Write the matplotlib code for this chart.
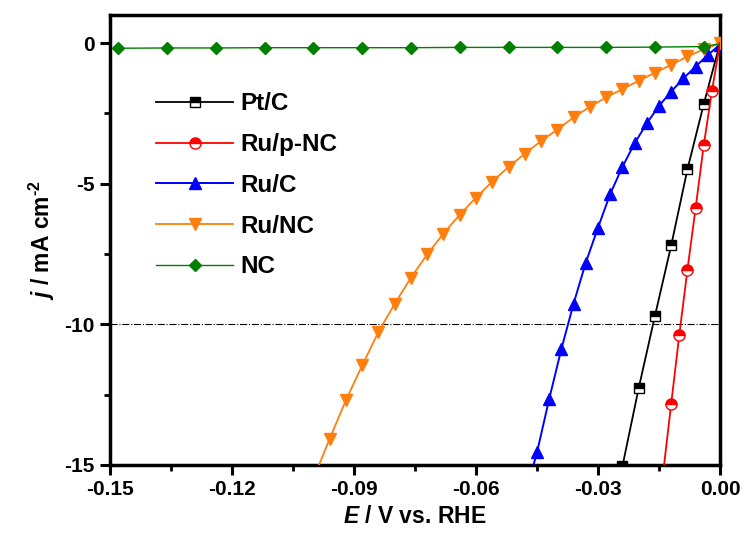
import matplotlib
matplotlib.use("Agg")
import matplotlib.pyplot as plt
from matplotlib.ticker import MultipleLocator, FormatStrFormatter

plt.rcParams['font.family'] = ['Liberation Sans', 'DejaVu Sans']
plt.rcParams['font.weight'] = 'bold'
plt.rcParams['axes.unicode_minus'] = False
plt.rcParams['mathtext.fontset'] = 'custom'
plt.rcParams['mathtext.rm'] = 'Liberation Sans:bold'
plt.rcParams['mathtext.bf'] = 'Liberation Sans:bold'
plt.rcParams['mathtext.it'] = 'Liberation Sans:bold:italic'
plt.rcParams['mathtext.bfit'] = 'Liberation Sans:bold:italic'

# Pt/C
ptc_E = [0.0, -0.004, -0.008, -0.012, -0.016, -0.020, -0.024]
ptc_j = [0.0, -2.17, -4.48, -7.19, -9.70, -12.27, -15.05]
# Ru/p-NC
rupnc_E = [0.0, -0.002, -0.004, -0.006, -0.008, -0.010, -0.012, -0.014]
rupnc_j = [0.0, -1.71, -3.63, -5.86, -8.05, -10.36, -12.82, -15.3]
# Ru/C
ruc_E = [0.0, -0.003, -0.006, -0.009, -0.012, -0.015, -0.018, -0.021,
         -0.024, -0.027, -0.030, -0.033, -0.036, -0.039, -0.042, -0.045, -0.047]
ruc_j = [-0.05, -0.42, -0.83, -1.25, -1.72, -2.23, -2.85, -3.56,
         -4.40, -5.36, -6.56, -7.80, -9.26, -10.87, -12.65, -14.55, -15.6]
# Ru/NC
runc_E = [0.0, -0.004, -0.008, -0.012, -0.016, -0.020, -0.024, -0.028, -0.032,
          -0.036, -0.040, -0.044, -0.048, -0.052, -0.056, -0.060, -0.064, -0.068,
          -0.072, -0.076, -0.080, -0.084, -0.088, -0.092, -0.096, -0.100]
runc_j = [0.0, -0.22, -0.47, -0.77, -1.05, -1.34, -1.63, -1.93, -2.26,
          -2.64, -3.07, -3.48, -3.93, -4.40, -4.92, -5.49, -6.10, -6.77,
          -7.51, -8.34, -9.27, -10.27, -11.46, -12.70, -14.07, -15.5]
# NC
nc_E = [-0.148, -0.136, -0.124, -0.112, -0.100, -0.088, -0.076, -0.064,
        -0.052, -0.040, -0.028, -0.016, -0.004, 0.0]
nc_j = [-0.18, -0.17, -0.17, -0.16, -0.16, -0.16, -0.16, -0.15,
        -0.15, -0.15, -0.15, -0.14, -0.12, -0.02]

xticks = [-0.15, -0.12, -0.09, -0.06, -0.03, 0.00]
yticks = [0, -5, -10, -15]

fig = plt.figure(figsize=(7.5, 5.38), dpi=100)
ax = fig.add_axes([0.1467, 0.1357, 0.8133, 0.8363])

ax.axhline(-10, color='black', lw=0.8, ls='-.', zorder=1)

ax.plot(ptc_E, ptc_j, color='black', lw=1.3, marker='s', ms=7, fillstyle='top',
        markerfacecolor='black', markerfacecoloralt='white', markeredgecolor='black',
        markevery=list(range(1, len(ptc_E))), label='Pt/C', zorder=4)
ax.plot(rupnc_E, rupnc_j, color='red', lw=1.3, marker='o', ms=8, fillstyle='top',
        markerfacecolor='red', markerfacecoloralt='white', markeredgecolor='red',
        markevery=list(range(1, len(rupnc_E) - 1)), label='Ru/p-NC', zorder=5)
ax.plot(ruc_E, ruc_j, color='blue', lw=1.4, marker='^', ms=8,
        markevery=list(range(0, len(ruc_E) - 1)), label='Ru/C', zorder=3)
ax.plot(runc_E, runc_j, color='#FF7F0E', lw=1.3, marker='v', ms=8,
        markevery=list(range(0, len(runc_E) - 1)), label='Ru/NC', zorder=3)
ax.plot(nc_E, nc_j, color='#007F00', lw=1.0, marker='D', ms=6,
        markevery=list(range(0, len(nc_E) - 1)), label='NC', zorder=3)

ax.set_xlim(-0.15, 0.0)
ax.set_ylim(-15, 1.0)
ax.set_xticks(xticks)
ax.set_yticks(yticks)
ax.xaxis.set_major_formatter(FormatStrFormatter('%.2f'))
ax.xaxis.set_minor_locator(MultipleLocator(0.015))
ax.yaxis.set_minor_locator(MultipleLocator(2.5))

for s in ax.spines.values():
    s.set_linewidth(2.5)
ax.tick_params(which='major', direction='out', length=7, width=2.2, labelsize=15, pad=4)
ax.tick_params(which='minor', direction='out', length=4, width=2.0)
ax.tick_params(top=False, right=False, which='both')
for lab in ax.get_xticklabels() + ax.get_yticklabels():
    lab.set_fontweight('bold')

ax.set_xlabel(r'$\bfit{E}$ / V vs. RHE', fontsize=16.5, fontweight='bold', labelpad=4)
ax.set_ylabel(r'$\bfit{j}$ / mA cm$^{\text{-2}}$', fontsize=16.5, fontweight='bold', labelpad=5)

leg = ax.legend(loc='upper left', bbox_to_anchor=(0.039, 0.877), frameon=False,
                prop={'weight': 'bold', 'size': 17.5}, handlelength=3.2,
                labelspacing=0.73, handletextpad=0.3)

fig.savefig('out.png', dpi=100)
